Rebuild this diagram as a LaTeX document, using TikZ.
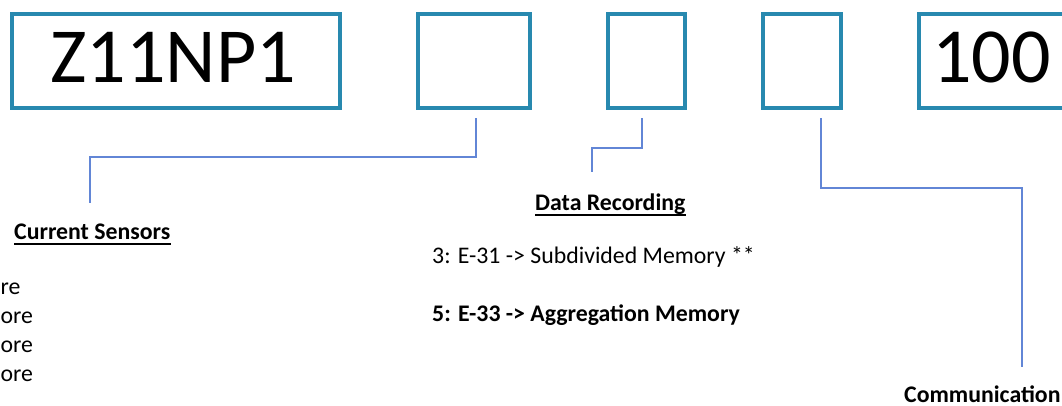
\documentclass[tikz,border=0pt]{standalone}
\usepackage{fontspec}
\setmainfont{Carlito}
\definecolor{boxc}{RGB}{40,137,175}
\definecolor{linec}{RGB}{98,134,214}
\begin{document}
\begin{tikzpicture}[x=1pt,y=-1pt,
  box/.style={draw=boxc, line width=3.6pt, inner sep=0pt, minimum height=94.5pt},
  big/.style={font=\fontsize{78}{82}\selectfont, inner sep=0pt, anchor=base west},
  txt/.style={font=\fontsize{23.8}{28}\selectfont, inner sep=0pt, anchor=base west},
  btxt/.style={font=\fontsize{23.8}{28}\selectfont\bfseries, inner sep=0pt, anchor=base west},
  uline/.style={draw=black, line width=1.8pt},
  link/.style={draw=linec, line width=1.4pt}]
\useasboundingbox (0,0) rectangle (1062,406);
\clip (0,0) rectangle (1062,406);
% boxes
\node[box, minimum width=328pt] (b1) at (176,61) {};
\node[box, minimum width=112pt] (b2) at (474,61) {};
\node[box, minimum width=77pt] (b3) at (646.5,61) {};
\node[box, minimum width=78pt] (b4) at (802,61) {};
\node[box, minimum width=200pt] (b5) at (1019,61) {};
\node[big] (t1) at (50,83) {Z11NP1};
\node[big] (t5) at (932,83) {100};
% texts
\node[btxt] (cs) at (14,239) {Current Sensors};
\node[txt] (l1) at (0.5,294) {re};
\node[txt] (l2) at (0.5,323) {ore};
\node[txt] (l3) at (0.5,352) {ore};
\node[txt] (l4) at (0.5,381) {ore};
\node[btxt] (dr) at (535,210) {Data Recording};
\node[txt] (d1) at (432,263) {3: E-31 -> Subdivided Memory **};
\node[btxt] (d2) at (432,321) {5: E-33 -> Aggregation Memory};
\node[btxt] (cm) at (904,402) {Communication};
\draw[uline] ([yshift=-5pt]cs.base west) -- ([yshift=-5pt]cs.base east);
\draw[uline] ([yshift=-5pt]dr.base west) -- ([yshift=-5pt]dr.base east);
% connector ends
\coordinate (e1) at (90,203);
\coordinate (e2) at (592,172);
\coordinate (e3) at (1022,367);
\draw[link] ([xshift=2pt,yshift=-8pt]b2.south) -- ++(0,39) -| (e1);
\draw[link] ([xshift=-4.5pt,yshift=-8pt]b3.south) -- ++(0,30) -| (e2);
\draw[link] ([xshift=19pt,yshift=-8pt]b4.south) -- ++(0,70) -| (e3);
\end{tikzpicture}
\end{document}
